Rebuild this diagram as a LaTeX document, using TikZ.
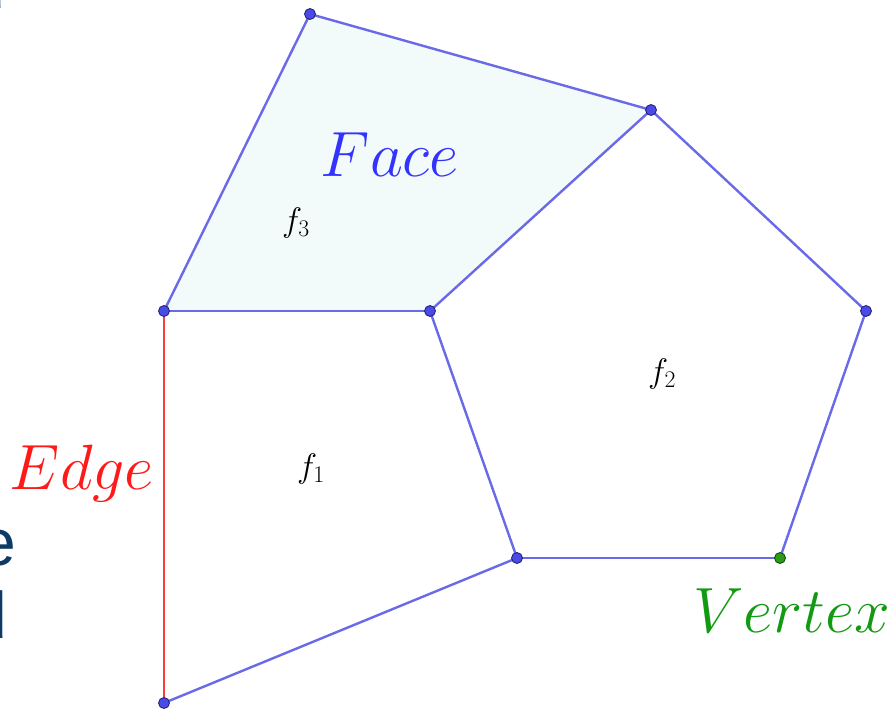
\RequirePackage{fix-cm}
\documentclass[tikz,border=0pt]{standalone}
\usepackage{fontspec}
\newfontfamily\slidefont{Liberation Sans}
\definecolor{edgeblue}{HTML}{6A6AE8}
\definecolor{dotblue}{HTML}{4A4AE6}
\definecolor{dotrim}{HTML}{1E1E70}
\definecolor{facefill}{HTML}{F2FAFA}
\definecolor{redlab}{HTML}{FF1A1A}
\definecolor{greenlab}{HTML}{139A13}
\definecolor{greendot}{HTML}{2F9A1A}
\definecolor{slideblue}{HTML}{0E3A66}
\tikzset{
  seg/.style={draw=edgeblue, line width=2.4pt},
  redseg/.style={draw=redlab!85!white, line width=1.8pt},
  vtx/.style={circle, fill=dotblue, draw=dotrim, line width=0.8pt, minimum size=11pt, inner sep=0pt},
  gvtx/.style={circle, fill=greendot, draw=black!70!green, line width=0.8pt, minimum size=11pt, inner sep=0pt},
  biglab/.style={font=\fontsize{64}{70}\selectfont, anchor=base, inner sep=0pt},
  flab/.style={font=\fontsize{34}{38}\selectfont, anchor=base, inner sep=0pt},
  slidetxt/.style={font=\slidefont\fontsize{66}{72}\selectfont, text=slideblue, anchor=base east, inner sep=0pt}
}
\begin{document}
\begin{tikzpicture}[x=1pt, y=-1pt]
\useasboundingbox (0,0) rectangle (895,710);
\fill[white] (0,0) rectangle (895,710);
% coordinates
\coordinate (pA) at (310,14);
\coordinate (pB) at (651,110);
\coordinate (pC) at (866,311);
\coordinate (pD) at (780,558);
\coordinate (pE) at (517,558);
\coordinate (pF) at (430,311);
\coordinate (pG) at (164,311);
\coordinate (pH) at (164,703);
% shaded face
\fill[facefill] (pA) -- (pB) -- (pF) -- (pG) -- cycle;
% edges
\draw[seg] (pA) -- (pB);
\draw[seg] (pB) -- (pF);
\draw[seg] (pF) -- (pG);
\draw[seg] (pG) -- (pA);
\draw[seg] (pB) -- (pC);
\draw[seg] (pC) -- (pD);
\draw[seg] (pD) -- (pE);
\draw[seg] (pE) -- (pF);
\draw[seg] (pH) -- (pE);
\draw[redseg] (pG) -- (pH);
% vertices
\node[vtx] (vA) at (pA) {};
\node[vtx] (vB) at (pB) {};
\node[vtx] (vC) at (pC) {};
\node[gvtx] (vD) at (pD) {};
\node[vtx] (vE) at (pE) {};
\node[vtx] (vF) at (pF) {};
\node[vtx] (vG) at (pG) {};
\node[vtx] (vH) at (pH) {};
% labels
\node[biglab, text=blue!80!white] (face) at (390,176) {$Face$};
\node[biglab, text=redlab] (edge) at (82,489) {$Edge$};
\node[biglab, text=greenlab] (vertex) at (792,632) {$Vertex$};
\node[flab] (f3) at (296,231) {$f_3$};
\node[flab] (f2) at (662,382) {$f_2$};
\node[flab] (f1) at (311,477) {$f_1$};
% cropped slide text at left edge
\node[slidetxt] (se) at (16,565) {e};
\node[slidetxt] (sd) at (7,638) {d};
\node[slidetxt] (sy) at (5,8) {d};
\end{tikzpicture}
\end{document}
